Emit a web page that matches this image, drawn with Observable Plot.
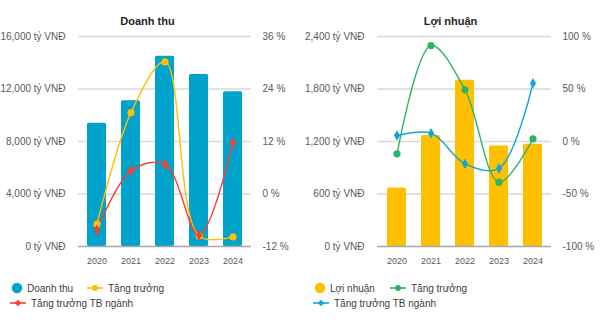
<!DOCTYPE html>
<html><head><meta charset="utf-8">
<script src="https://cdn.jsdelivr.net/npm/d3@7"></script>
<script src="https://cdn.jsdelivr.net/npm/@observablehq/plot@0.6"></script>
<style>
body{margin:0;background:#fff;font-family:"Liberation Sans",Arial,sans-serif;}
#wrap{display:flex;width:600px;height:323px;}
.panel{width:300px;position:relative;}
.legend{position:absolute;left:0;top:275px;width:300px;height:48px;font-size:10px;color:#404040;}
.li{position:absolute;display:flex;align-items:center;height:14px;}
.li svg{margin-right:4px;}
</style></head>
<body><div id="wrap"></div>
<script>
const years = ["2020","2021","2022","2023","2024"];
const revenue = [9400, 11100, 14500, 13100, 11800];
const revGrowth = [-6.9, 18.6, 30.2, -9.6, -9.8];
const revIndustry = [-8.2, 5.3, 6.8, -9.4, 11.7];
const profit = [670, 1270, 1900, 1150, 1170];
const profitGrowth = [-11.7, 91.4, 49.2, -38.7, 2.5];
const profitIndustry = [5.7, 7.9, -21.2, -25.7, 55.5];
const revTicks = [0, 4000, 8000, 12000, 16000];
const revPctTicks = [-12, 0, 12, 24, 36];
const profitTicks = [0, 600, 1200, 1800, 2400];
const profitPctTicks = [-100, -50, 0, 50, 100];

function panel(cfg) {
  const ymax = cfg.ticks[cfg.ticks.length - 1];
  const pmin = cfg.pticks[0], pmax = cfg.pticks[cfg.pticks.length - 1];
  const toY = p => (p - pmin) / (pmax - pmin) * ymax;
  const fromY = v => Math.round(v / ymax * (pmax - pmin) + pmin);
  const bars = years.map((y, i) => ({year: y, v: cfg.bars[i]}));
  const g = years.map((y, i) => ({year: y, v: toY(cfg.growth[i])}));
  const ind = years.map((y, i) => ({year: y, v: toY(cfg.industry[i])}));
  const mL = cfg.mL, mR = 300 - cfg.fR;
  const plot = Plot.plot({
    width: 300, height: 275,
    marginTop: 36, marginBottom: 29, marginLeft: mL, marginRight: mR,
    style: {fontFamily: '"Liberation Sans", Arial, sans-serif', fontSize: "10px", color: "#595959", background: "#fff"},
    x: {domain: years, paddingInner: 0.45, paddingOuter: 0.225, label: null},
    y: {domain: [0, ymax], label: null},
    marks: [
      Plot.ruleY(cfg.ticks.slice(1), {stroke: "#d9d9d9", strokeWidth: 1.3}),
      Plot.barY(bars, {x: "year", y: "v", fill: cfg.barColor, rx: 1.5}),
      Plot.ruleY([0], {stroke: "#a6a6a6", strokeWidth: 1.3}),
      Plot.line(g, {x: "year", y: "v", stroke: cfg.gColor, strokeWidth: 1.4, curve: "catmull-rom"}),
      Plot.line(ind, {x: "year", y: "v", stroke: cfg.iColor, strokeWidth: 1.4, curve: "catmull-rom"}),
      Plot.dot(g, {x: "year", y: "v", fill: cfg.gColor, r: 3.6, symbol: "circle"}),
      Plot.dot(ind, {x: "year", y: "v", fill: cfg.iColor, r: 3.2, symbol: "diamond"}),
      Plot.axisX({tickSize: 0, tickPadding: 11, fontSize: 9, fill: "#595959"}),
      Plot.axisY({ticks: cfg.ticks, tickSize: 0, tickPadding: 13, tickFormat: d => d3.format(",")(d) + " tỷ VNĐ", fill: "#595959"}),
      Plot.axisY({anchor: "right", ticks: cfg.pticks.map(toY), tickSize: 0, tickPadding: 11, tickFormat: d => fromY(d) + " %", fill: "#595959"}),
      Plot.text([cfg.title], {frameAnchor: "top", dy: -19, dx: 150 - (mL + cfg.fR) / 2 + cfg.tdx, fontWeight: "bold", fontSize: 11, fill: "#262626"})
    ]
  });
  const div = document.createElement("div");
  div.className = "panel";
  div.appendChild(plot);
  const lg = document.createElement("div");
  lg.className = "legend";
  const circ = c => `<svg width="12" height="12"><circle cx="6" cy="6" r="5.2" fill="${c}"/></svg>`;
  const lineDot = c => `<svg width="18" height="10"><line x1="1" x2="17" y1="5" y2="5" stroke="${c}" stroke-width="1.6"/><circle cx="9" cy="5" r="3" fill="${c}"/></svg>`;
  const lineDia = c => `<svg width="18" height="10"><line x1="1" x2="17" y1="5" y2="5" stroke="${c}" stroke-width="1.6"/><path d="M9,1.8L12.2,5L9,8.2L5.8,5Z" fill="${c}"/></svg>`;
  lg.innerHTML =
    `<div class="li" style="left:${cfg.lx}px;top:6px">${circ(cfg.barColor)}<span>${cfg.barName}</span></div>` +
    `<div class="li" style="left:${cfg.lx2}px;top:6px">${lineDot(cfg.gColor)}<span>Tăng trưởng</span></div>` +
    `<div class="li" style="left:${cfg.lx - 2}px;top:21px">${lineDia(cfg.iColor)}<span>Tăng trưởng TB ngành</span></div>`;
  div.appendChild(lg);
  return div;
}

const wrap = document.getElementById("wrap");
wrap.appendChild(panel({
  title: "Doanh thu", tdx: -3, ticks: revTicks, pticks: revPctTicks,
  bars: revenue, growth: revGrowth, industry: revIndustry,
  barColor: "#00a3cc", gColor: "#ffc000", iColor: "#ff3b30",
  barName: "Doanh thu", mL: 78, fR: 251, lx: 11, lx2: 86
}));
wrap.appendChild(panel({
  title: "Lợi nhuận", tdx: 0, ticks: profitTicks, pticks: profitPctTicks,
  bars: profit, growth: profitGrowth, industry: profitIndustry,
  barColor: "#ffc000", gColor: "#2eb364", iColor: "#12a5d6",
  barName: "Lợi nhuận", mL: 77, fR: 251, lx: 14, lx2: 89
}));
</script></body></html>
